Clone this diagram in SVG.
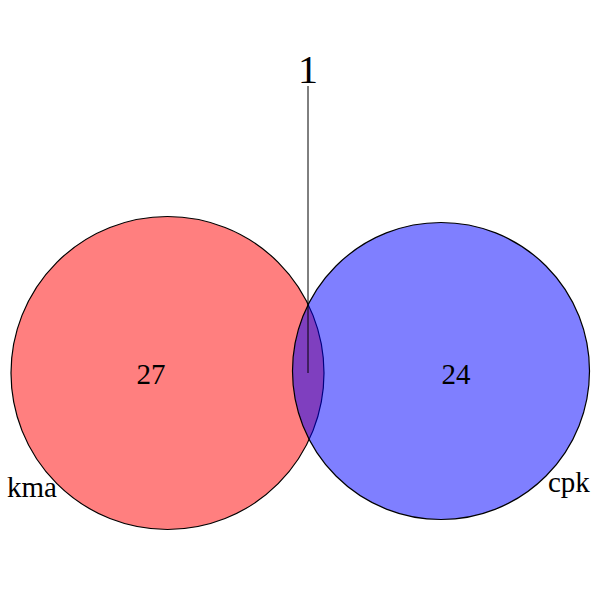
<svg xmlns="http://www.w3.org/2000/svg" width="600" height="600" viewBox="0 0 600 600">
<style>
.set{stroke:#000;stroke-width:1.2}
.t{font-family:"Liberation Serif","Times New Roman",serif;fill:#000}
</style>
<rect width="600" height="600" fill="#fff"/>
<g id="kma">
<circle class="set" cx="167.5" cy="373" r="156.5" fill="#FF0000" fill-opacity="0.5"/>
</g>
<g id="cpk">
<circle class="set" cx="441" cy="371" r="148.5" fill="#0000FF" fill-opacity="0.5"/>
</g>
<g id="connectors">
<line x1="308" y1="86" x2="308" y2="373" stroke="#000" stroke-width="1"/>
</g>
<g id="labels">
<text class="t" x="151" y="384" font-size="29" text-anchor="middle">27</text>
<text class="t" x="456" y="384" font-size="29" text-anchor="middle">24</text>
<text class="t" x="308" y="83" font-size="40" text-anchor="middle">1</text>
<text class="t" x="7" y="497" font-size="29">kma</text>
<text class="t" x="548" y="492" font-size="29">cpk</text>
</g>
</svg>
